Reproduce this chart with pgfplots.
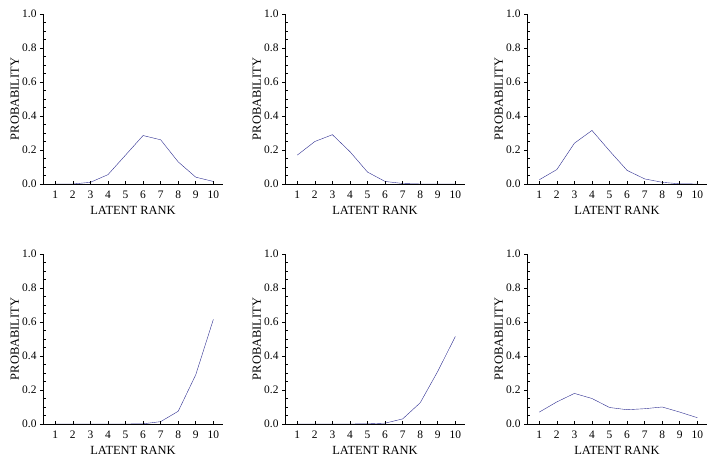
\documentclass[border=0pt]{standalone}
\usepackage{fontspec}
\setmainfont{Liberation Serif}
\usepackage{pgfplots}
\pgfplotsset{compat=1.18}
\definecolor{curve}{RGB}{45,45,145}
\pgfplotsset{
  rankplot/.style={
    scale only axis, width=180bp, height=170bp,
    anchor=south west,
    xmin=0.3, xmax=10.55, ymin=0, ymax=1,
    axis lines*=left,
    axis on top,
    xtick={1,...,10},
    ytick={0,0.2,0.4,0.6,0.8,1},
    yticklabels={0.0,0.2,0.4,0.6,0.8,1.0},
    minor y tick num=3,
    xtick align=inside, ytick align=outside,
    major tick length=3bp, minor tick length=3bp,
    every minor tick/.append style={xshift=3bp},
    axis line style={black, line width=0.8bp},
    tick style={black, line width=0.7bp},
    tick label style={font=\fontsize{11.5}{12}\selectfont, /pgf/number format/assume math mode=true},
    xticklabel style={yshift=-3bp},
    every axis x label/.style={at={(axis description cs:0.5,0)}, anchor=center, yshift=-26bp},
    every axis y label/.style={at={(axis description cs:-0.156,0.5)}, anchor=center, rotate=90},
    label style={font=\fontsize{12.5}{14}\selectfont},
    xlabel={LATENT RANK}, ylabel={PROBABILITY},
    cycle list={{curve, line width=0.9bp, mark=none}},
  },
}
\begin{document}
\begin{tikzpicture}
\useasboundingbox (0,0) rectangle (709bp,475bp);
% top row
\begin{axis}[rankplot, at={(43bp,291bp)}]
\addplot coordinates {(1,0)(2,0)(3,0.01)(4,0.055)(5,0.17)(6,0.285)(7,0.26)(8,0.13)(9,0.04)(10,0.015)};
\end{axis}
\begin{axis}[rankplot, at={(285bp,291bp)}]
\addplot coordinates {(1,0.17)(2,0.25)(3,0.29)(4,0.19)(5,0.07)(6,0.015)(7,0.003)(8,0)(9,0)(10,0)};
\end{axis}
\begin{axis}[rankplot, at={(527bp,291bp)}]
\addplot coordinates {(1,0.025)(2,0.085)(3,0.24)(4,0.315)(5,0.195)(6,0.08)(7,0.03)(8,0.01)(9,0.001)(10,0)};
\end{axis}
% bottom row
\begin{axis}[rankplot, at={(43bp,51bp)}]
\addplot coordinates {(1,0)(2,0)(3,0)(4,0)(5,0)(6,0.001)(7,0.014)(8,0.075)(9,0.29)(10,0.615)};
\end{axis}
\begin{axis}[rankplot, at={(285bp,51bp)}]
\addplot coordinates {(1,0)(2,0)(3,0)(4,0)(5,0.001)(6,0.005)(7,0.03)(8,0.125)(9,0.31)(10,0.515)};
\end{axis}
\begin{axis}[rankplot, at={(527bp,51bp)}]
\addplot coordinates {(1,0.07)(2,0.13)(3,0.18)(4,0.15)(5,0.097)(6,0.084)(7,0.09)(8,0.1)(9,0.07)(10,0.037)};
\end{axis}
\end{tikzpicture}
\end{document}
